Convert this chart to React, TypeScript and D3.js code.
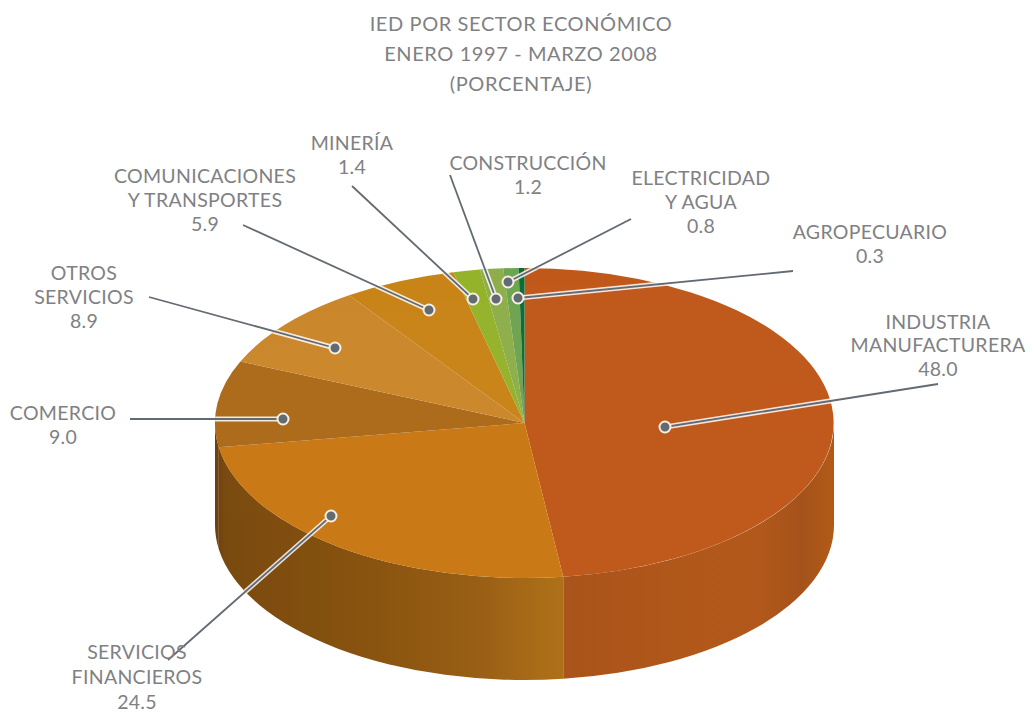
import React from "react";
import * as d3 from "d3";

const titleLines = ["IED POR SECTOR ECONÓMICO", "ENERO 1997 - MARZO 2008", "(PORCENTAJE)"];
const sectors = ["INDUSTRIA MANUFACTURERA", "SERVICIOS FINANCIEROS", "COMERCIO", "OTROS SERVICIOS", "COMUNICACIONES Y TRANSPORTES", "MINERÍA", "CONSTRUCCIÓN", "ELECTRICIDAD Y AGUA", "AGROPECUARIO"];
const shares = [48.0, 24.5, 9.0, 8.9, 5.9, 1.4, 1.2, 0.8, 0.3];
const colors = ["#c05a1c", "#c97a17", "#ad6b1c", "#cb882c", "#c9841a", "#95b32c", "#8fae4c", "#6fa552", "#0d6e3a"];

// annotation layout, per sector: label lines, text anchor point, leader dot, leader end
const labelLines = [["INDUSTRIA", "MANUFACTURERA"], ["SERVICIOS", "FINANCIEROS"], ["COMERCIO"], ["OTROS", "SERVICIOS"], ["COMUNICACIONES", "Y TRANSPORTES"], ["MINERÍA"], ["CONSTRUCCIÓN"], ["ELECTRICIDAD", "Y AGUA"], ["AGROPECUARIO"]];
const labelPos = [[938, 329], [137, 659], [63, 420], [84, 280], [205, 183], [352, 150], [528, 170], [701, 185], [870, 239]];
const lineStep = [23.4, 25, 24, 24, 24, 24, 24, 24, 24];
const dots = [[665, 427], [331, 516], [283, 419], [335, 348], [429, 310], [473, 299], [496, 299], [508, 282], [518, 298]];
const ends = [[938, 384], [168, 660], [130, 419], [149, 297], [243, 225], [352, 186], [450, 175], [631, 219], [793, 271]];

const W = 1033, H = 713, cx = 524.5, cy = 423, rx = 309.5, ry = 155, depth = 102;

const px = (a: number) => cx + rx * Math.sin(a);
const py = (a: number) => cy - ry * Math.cos(a);

const pie = d3.pie<number>().sort(null).value((d) => d);
const arcs = pie(shares);
const arcGen = d3.arc<d3.PieArcDatum<number>>().innerRadius(0).outerRadius(1);

// visible side wall between two angles of the front half
function sidePath(a0: number, a1: number) {
  const s = Math.max(a0, Math.PI / 2);
  const e = Math.min(a1, (3 * Math.PI) / 2);
  return `M${px(s)},${py(s)}A${rx},${ry} 0 0 1 ${px(e)},${py(e)}L${px(e)},${py(e) + depth}A${rx},${ry} 0 0 0 ${px(s)},${py(s) + depth}Z`;
}

const indStops = [[0, "#a9551b"], [0.08, "#ab541a"], [0.4, "#b0571a"], [0.72, "#b2581b"], [0.88, "#a5521a"], [1, "#b25a18"]];
const finStops = [[0, "#6a4010"], [0.03, "#7a4b10"], [0.4, "#87520f"], [0.75, "#985e14"], [0.95, "#ab6e18"], [1, "#ae7018"]];

export default function App() {
  const textStyle = { fontFamily: "Lato, sans-serif", fontSize: 19.5, fill: "#7f8184", letterSpacing: 0.3 };
  return (
    <svg width={W} height={H} style={{ position: "absolute", left: 0, top: 0, background: "#fff" }}>
      <defs>
        <linearGradient id="g0" gradientUnits="userSpaceOnUse" x1={px(arcs[0].endAngle)} x2={cx + rx} y1={0} y2={0}>
          {indStops.map(([o, c]) => <stop key={o as number} offset={o as number} stopColor={c as string} />)}
        </linearGradient>
        <linearGradient id="g1" gradientUnits="userSpaceOnUse" x1={cx - rx} x2={px(arcs[0].endAngle)} y1={0} y2={0}>
          {finStops.map(([o, c]) => <stop key={o as number} offset={o as number} stopColor={c as string} />)}
        </linearGradient>
        <clipPath id="body">
          <path d={`M${cx - rx},${cy}A${rx},${ry} 0 0 1 ${cx + rx},${cy}L${cx + rx},${cy + depth}A${rx},${ry} 0 0 1 ${cx - rx},${cy + depth}Z`} />
        </clipPath>
      </defs>
      <path d={sidePath(arcs[1].startAngle, arcs[1].endAngle)} fill="url(#g1)" />
      <path d={sidePath(arcs[2].startAngle, arcs[2].endAngle)} fill="url(#g1)" />
      <path d={sidePath(arcs[0].startAngle, arcs[0].endAngle)} fill="url(#g0)" />
      <g transform={`translate(${cx},${cy}) scale(${rx},${ry})`}>
        {arcs.map((a, i) => <path key={sectors[i]} d={arcGen(a) as string} fill={colors[i]} />)}
      </g>
      {dots.map((d, i) => (
        <g key={sectors[i]}>
          <line x1={d[0]} y1={d[1]} x2={ends[i][0]} y2={ends[i][1]} stroke="#fff" strokeWidth={5} clipPath="url(#body)" opacity={0.85} />
          <line x1={d[0]} y1={d[1]} x2={ends[i][0]} y2={ends[i][1]} stroke="#646a72" strokeWidth={1.8} />
          <circle cx={d[0]} cy={d[1]} r={5.5} fill="#646a72" stroke="#f6f0e4" strokeWidth={2} />
        </g>
      ))}
      <g textAnchor="middle" style={textStyle}>
        {titleLines.map((t, i) => <text key={t} x={521} y={31 + i * 30} style={{ fontSize: 20, letterSpacing: 0.6 }}>{t}</text>)}
        {sectors.map((s, i) => (
          <text key={s} x={labelPos[i][0]}>
            {[...labelLines[i], shares[i].toFixed(1)].map((l, j) => (
              <tspan key={j} x={labelPos[i][0]} y={labelPos[i][1] + j * lineStep[i]}>{l}</tspan>
            ))}
          </text>
        ))}
      </g>
    </svg>
  );
}
